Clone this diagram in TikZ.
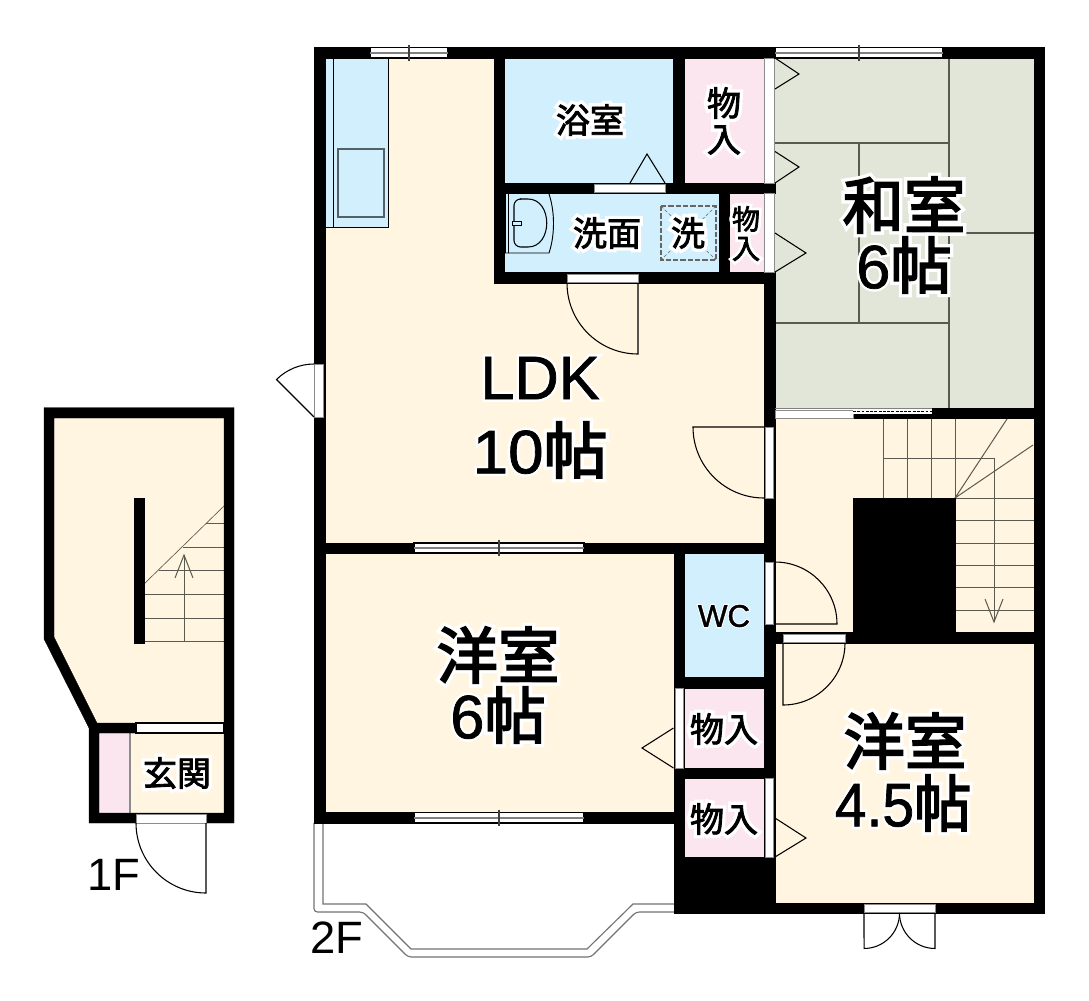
\documentclass[tikz,border=0pt]{standalone}
\usepackage{fontspec}
\usepackage{graphicx}
\setmainfont{Liberation Sans}
\newfontfamily\latb[FakeBold=1.2]{Liberation Sans}
\newfontfamily\cjkb[FakeBold=3]{Noto Sans CJK JP}
\newfontfamily\lathb[FakeBold=9]{Liberation Sans}
\newfontfamily\cjkhb[FakeBold=14]{Noto Sans CJK JP}
\newfontfamily\latm[FakeBold=1.2]{Liberation Sans}
\newfontfamily\cjkm[FakeBold=2.5]{Noto Sans CJK JP}
\newfontfamily\lathm[FakeBold=8]{Liberation Sans}
\newfontfamily\cjkhm[FakeBold=22]{Noto Sans CJK JP}
\definecolor{cream}{HTML}{FFF5E1}
\definecolor{bluefl}{HTML}{D1EFFC}
\definecolor{pinkfl}{HTML}{FBE6F0}
\definecolor{greenfl}{HTML}{E1E6D9}
\definecolor{linegray}{HTML}{5A5A50}
% white halo copy under the black text: {latin part}{cjk part}
\newcommand{\labbig}[2]{\makebox[0pt][l]{\color{white}{\lathb #1}{\cjkhb #2}}{\latb #1}{\cjkb #2}}
\newcommand{\labmid}[2]{\makebox[0pt][l]{\color{white}{\lathm #1}{\cjkhm #2}}{\latm #1}{\cjkm #2}}
\newcommand{\rc}[5][wall]{\path[#1] (#2,#3) rectangle (#4,#5);}
\newcommand{\hwin}[5]{% x1 x2 y1 y2 xmid
  \path[winbox] (#1,#3) rectangle (#2,#4);
  \draw[winmid] (#1,{(#3+#4)/2}) -- (#2,{(#3+#4)/2});
  \draw[winmull] (#5,#3-3) -- (#5,#4+3);}
\tikzset{
  wall/.style={fill=black,draw=black,line width=0.2pt},
  floorcream/.style={fill=cream},
  floorblue/.style={fill=bluefl,draw=linegray,line width=0.3pt},
  floorpink/.style={fill=pinkfl,draw=linegray,line width=0.3pt},
  floorgreen/.style={fill=greenfl},
  strip/.style={fill=white,draw=black!45,line width=0.3pt},
  winbox/.style={fill=white,draw=black,line width=0.8pt},
  winmid/.style={draw=black!50,line width=1.4pt},
  winmull/.style={draw=black!75,line width=1.1pt},
  leaf/.style={draw=black,line width=0.8pt},
  thin line/.style={draw=linegray,line width=0.8pt},
  stair/.style={draw=linegray,line width=0.75pt},
  balc/.style={draw=black!55,line width=0.85pt},
  big/.style={font=\fontsize{46pt}{46pt}\selectfont,inner sep=0pt},
  mid/.style={font=\fontsize{25.5pt}{26pt}\selectfont,inner sep=0pt},
  small/.style={font=\fontsize{21pt}{22pt}\selectfont,inner sep=0pt},
  floorlab/.style={font=\fontsize{34pt}{35pt}\selectfont,inner sep=0pt},
}
\begin{document}
\begin{tikzpicture}[x=0.75pt,y=-0.75pt]
\useasboundingbox (0,0) rectangle (1089,1000);
\fill[white] (0,0) rectangle (1089,1000);
% ---- balcony
\draw[balc,rounded corners=2.5pt] (314,823) -- (314,912) -- (363,912) -- (408,957) -- (591,957) -- (636,912) -- (674,912);
\draw[balc] (323,823) -- (323,904) -- (366,904) -- (411,949) -- (587,949) -- (633,904) -- (674,904);
% ---- floors 2F
\rc[floorcream]{325}{58}{764}{543}
\rc[floorcream]{325}{553}{674}{812}
\rc[floorcream]{775}{418}{1034}{632}
\rc[floorcream]{775}{643}{1034}{903}
\rc[floorgreen]{775}{58}{1034}{408}
\rc[floorblue]{504}{58}{673}{183}
\rc[floorblue]{504}{193}{719}{272}
\rc[floorblue]{684}{553}{764}{677}
\rc[floorpink]{684}{58}{764}{183}
\rc[floorpink]{729}{193}{764}{272}
\rc[floorpink]{684}{688}{764}{768}
\rc[floorpink]{684}{778}{764}{857}
% ---- kitchen
\path[floorblue,draw=black,line width=0.7pt] (325,58) -- (388,58) -- (388,227) -- (325,227) -- cycle;
\draw[leaf,line width=0.5pt] (333,58) -- (333,227);
\draw[draw=black!60!bluefl,line width=0.9pt] (338,149) rectangle (384,217);
% ---- tatami
\draw[thin line] (949,58) -- (949,408);
\draw[thin line] (775,143) -- (949,143);
\draw[thin line] (859,143) -- (859,323);
\draw[thin line] (775,323) -- (949,323);
\draw[thin line] (949,233) -- (1034,233);
% ---- stairs 2F
\foreach \xs in {883,907,931,955} {\draw[stair] (\xs,418) -- (\xs,498);}
\foreach \ys in {498,520,543,565,587,610} {\draw[stair] (955,\ys) -- (1034,\ys);}
\draw[stair] (883,458) -- (994,458) -- (994,622);
\draw[stair] (985,599) -- (994,622) -- (1003,599);
\draw[stair] (1007,419) -- (955,498) -- (1033,445);
% ---- walls 2F
\rc{314}{47.5}{1044}{58}
\rc{314}{47.5}{325}{823}
\rc{1034}{47.5}{1044}{913}
\rc{494}{58}{504}{283}
\rc{673}{58}{684}{193}
\rc{494}{183}{775}{193}
\rc{719}{193}{729}{283}
\rc{494}{272}{775}{283}
\rc{764}{283}{775}{913}
\rc{314}{543}{775}{553}
\rc{674}{553}{684}{913}
\rc{684}{677}{775}{688}
\rc{684}{768}{775}{778}
\rc{674}{857}{775}{913}
\rc{314}{812}{684}{823}
\rc{674}{903}{1044}{913}
\rc{775}{632}{1044}{643}
\rc{853}{498}{955}{643}
\rc{932}{408}{1044}{418.5}
\rc{853}{413.5}{932}{418.5}
% ---- sliding door to the washitsu
\rc[strip]{775}{410.5}{853}{418.5}
\draw[draw=black!50,line width=0.5pt] (775,408) -- (932,408);
\path[fill=white] (853,409) rectangle (932,413.5);
\draw[draw=black,line width=0.8pt,dash pattern=on 2.2pt off 1pt] (853,411.5) -- (932,411.5);
% ---- door strips
\rc[strip]{764.5}{58}{774.5}{183}
\rc[strip]{764.5}{193}{774.5}{272}
\rc[strip]{594}{184}{665}{192}
\rc[strip]{567}{274}{638}{282}
\rc[strip]{314.5}{364}{323}{417}
\rc[strip]{765}{427}{773}{498}
\rc[strip]{765}{562}{773}{624}
\rc[strip]{783}{634}{845}{642}
\rc[strip]{675}{688}{683}{768}
\rc[strip]{765}{778}{773}{857}
\rc[strip]{864}{904.5}{935}{912.5}
% ---- windows
\hwin{370}{448}{47.5}{58}{409}
\hwin{775}{943}{47.5}{58}{859}
\hwin{414}{584}{543}{553}{499}
\hwin{414}{584}{812.5}{823}{499}
% ---- door leaves
\draw[leaf] (630,183) -- (647,154) -- (665,183);
\draw[leaf] (567,283) arc[start angle=180,end angle=270,radius=53.25pt] -- (638,283);
\draw[leaf] (314,364) arc[start angle=90,end angle=135,radius=39.75pt] -- (314,417);
\draw[leaf] (764,427) -- (693,427) arc[start angle=180,end angle=270,radius=53.25pt];
\draw[leaf] (775,562) arc[start angle=90,end angle=0,radius=46.5pt] -- (775,624);
\draw[leaf] (783,643) -- (783,705) arc[start angle=270,end angle=360,radius=46.5pt];
\draw[leaf] (775,58) -- (799,74) -- (775,89);
\draw[leaf] (775,151.5) -- (799,167) -- (775,183);
\draw[leaf] (775,233) -- (806,253) -- (775,272);
\draw[leaf] (673.5,728) -- (642,748) -- (673.5,768);
\draw[leaf] (775,818) -- (806,838) -- (775,857);
\draw[leaf] (899.5,913) arc[start angle=0,end angle=-90,radius=26.6pt] -- (864,913);
\draw[leaf] (899.5,913) arc[start angle=180,end angle=270,radius=26.6pt] -- (935,913);
% ---- wash basin and laundry pan
\draw[leaf,line width=0.6pt] (505,194) -- (505,253);
\draw[leaf,line width=0.6pt] (508,194) -- (508,253);
\draw[leaf,line width=0.7pt] (549,194) .. controls (555,212) and (555,235) .. (549,253) -- (505,253);
\draw[leaf,line width=0.8pt,rounded corners=5pt] (521,199) -- (514,199) -- (514,247) -- (528,247);
\draw[leaf,line width=0.8pt] (528,247) .. controls (553,247) and (553,199) .. (528,199) -- (520,199);
\draw[leaf,line width=0.7pt,fill=bluefl] (512,221) rectangle (521,225.5);
\draw[draw=black!60,line width=0.8pt,dash pattern=on 4pt off 1.5pt] (661,206) rectangle (716,260);
\draw[draw=black!60,line width=0.4pt,dash pattern=on 2.5pt off 1.5pt] (661,206) -- (716,260);
\draw[draw=black!60,line width=0.4pt,dash pattern=on 2.5pt off 1.5pt] (716,206) -- (661,260);
% ---- 1F floors
\path[floorcream] (54,418) -- (224,418) -- (224,723) -- (97,723) -- (54,637) -- cycle;
\rc[floorcream]{99}{733}{224}{813}
\rc[fill=pinkfl]{99}{733}{130}{813}
\draw[draw=black!45,line width=0.8pt] (130,733) -- (130,813);
% ---- 1F stairs
\foreach \ys in {641,618,594} {\draw[stair] (144,\ys) -- (224,\ys);}
\draw[stair] (159,570) -- (224,570);
\draw[stair] (183,547) -- (224,547);
\draw[stair] (206,523) -- (224,523);
\draw[stair,line width=0.5pt] (144,584) -- (224,506);
\draw[stair] (184,641) -- (184,555);
\draw[stair] (175,578) -- (184,555) -- (193,578);
% ---- 1F walls
\path[wall,even odd rule] (44,407.5) -- (234,407.5) -- (234,823) -- (89,823) -- (89,728) -- (44,639) -- cycle
  (54,418) -- (54,637) -- (97,723) -- (224,723) -- (224,418) -- cycle
  (99,733) -- (99,813) -- (224,813) -- (224,733) -- cycle;
\rc{134}{498}{144}{643}
\path[winbox] (136,723) rectangle (224,733);
\rc[strip]{136}{814}{206}{823}
\draw[leaf] (136,823) arc[start angle=180,end angle=270,radius=52.5pt] -- (206,823);
% ---- labels
\node[big] (ldk) at (540,378) {\labbig{LDK}{}};
\node[big] (ldkten) at (540,450) {\scalebox{1.04}[1]{\labbig{10}{帖}}};
\node[big] (wa) at (904,205) {\labbig{}{和室}};
\node[big] (wasix) at (904,265) {\labbig{6}{帖}};
\node[big] (yo) at (498,655) {\labbig{}{洋室}};
\node[big] (yosix) at (498,715) {\labbig{6}{帖}};
\node[big] (yob) at (905,741) {\labbig{}{洋室}};
\node[big] (yobfour) at (903,803) {\scalebox{0.93}[1]{\labbig{4.5}{帖}}};
\node[mid] (bath) at (590,120) {\labmid{}{浴室}};
\node[mid] (monoa) at (724,103) {\labmid{}{物}};
\node[mid] (monoat) at (724,140) {\labmid{}{入}};
\node[mid] (wash) at (607,233) {\labmid{}{洗面}};
\node[mid] (sen) at (688,233) {\labmid{}{洗}};
\node[small] (monob) at (746,219) {\labmid{}{物}};
\node[small] (monobt) at (746,249) {\labmid{}{入}};
\node[font=\fontsize{23.5pt}{24pt}\selectfont,inner sep=0pt] (wc) at (724,616) {\labmid{WC}{}};
\node[mid] (monoc) at (724,729) {\labmid{}{物入}};
\node[mid] (monod) at (724,819) {\labmid{}{物入}};
\node[mid] (genkan) at (177,773) {\labmid{}{玄関}};
\node[floorlab] (oneF) at (114,875) {1F};
\node[floorlab] (twoF) at (337,937.5) {2F};
\end{tikzpicture}
\end{document}
